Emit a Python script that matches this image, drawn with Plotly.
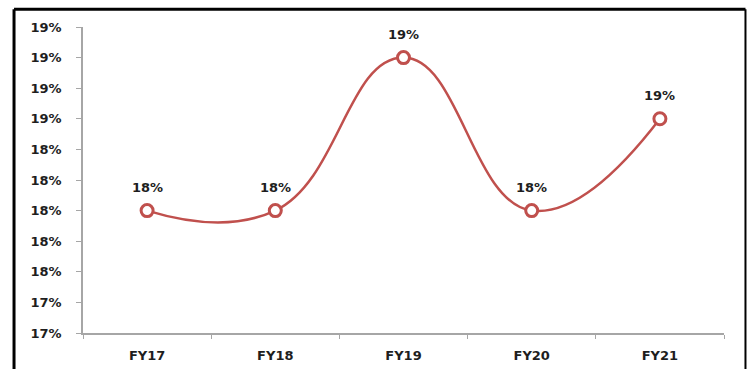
import plotly.graph_objects as go

# Yearly ratio series
years = ["FY17", "FY18", "FY19", "FY20", "FY21"]
ratio = [0.180, 0.180, 0.190, 0.180, 0.186]

# Y-axis tick positions (labels rounded to whole percent)
y_ticks = [0.172, 0.174, 0.176, 0.178, 0.180, 0.182, 0.184, 0.186, 0.188, 0.190, 0.192]

LINE_RED = "#C0504D"
TEXT = "#1E1E1E"
AXIS_GRAY = "#A6A6A6"
FONT = "DejaVu Sans"

fig = go.Figure()
fig.add_trace(go.Scatter(
    x=years,
    y=ratio,
    mode="lines+markers",
    line=dict(color=LINE_RED, width=2.5, shape="spline", smoothing=1.3),
    marker=dict(symbol="circle", size=12, color="white",
                line=dict(color=LINE_RED, width=3)),
    cliponaxis=False,
    hoverinfo="skip",
))

# Value labels above each point
for yr, v in zip(years, ratio):
    fig.add_annotation(
        x=yr, y=v, xref="x", yref="y",
        text=f"{v:.0%}",
        showarrow=False,
        yshift=23,
        font=dict(family=FONT, size=13, color=TEXT, weight="bold"),
    )

# Outer frame around the chart area
frame = dict(type="line", xref="paper", yref="paper", line=dict(color="black", width=3))
fig.add_shape(**frame, x0=-0.1076, x1=-0.1076, y0=1.058, y1=-0.3)
fig.add_shape(**frame, x0=-0.1076, x1=1.0335, y0=1.058, y1=1.058)
fig.add_shape(type="line", xref="paper", yref="paper", x0=1.0335, x1=1.0335,
              y0=1.058, y1=-0.3, line=dict(color="black", width=2))

fig.update_layout(
    width=747,
    height=369,
    margin=dict(l=83, r=23, t=27, b=36, autoexpand=False),
    paper_bgcolor="white",
    plot_bgcolor="white",
    showlegend=False,
    font=dict(family=FONT, size=13, color=TEXT),
)

fig.update_xaxes(
    type="category",
    range=[-0.5, 4.5],
    automargin=False,
    showgrid=False,
    showline=True,
    linecolor=AXIS_GRAY,
    linewidth=1.5,
    ticks="outside",
    tickson="boundaries",
    ticklen=4,
    tickcolor=AXIS_GRAY,
    tickwidth=1,
    ticklabelstandoff=10,
    tickfont=dict(family=FONT, size=13, color=TEXT, weight="bold"),
    zeroline=False,
)

fig.update_yaxes(
    range=[0.172, 0.192],
    tickvals=y_ticks,
    tickformat=".0%",
    automargin=False,
    showgrid=False,
    showline=True,
    linecolor=AXIS_GRAY,
    linewidth=1.5,
    ticks="outside",
    ticklen=5,
    tickcolor=AXIS_GRAY,
    tickwidth=1,
    ticklabelstandoff=12,
    tickfont=dict(family=FONT, size=13, color=TEXT, weight="bold"),
    zeroline=False,
)

fig.write_html("out.html")
